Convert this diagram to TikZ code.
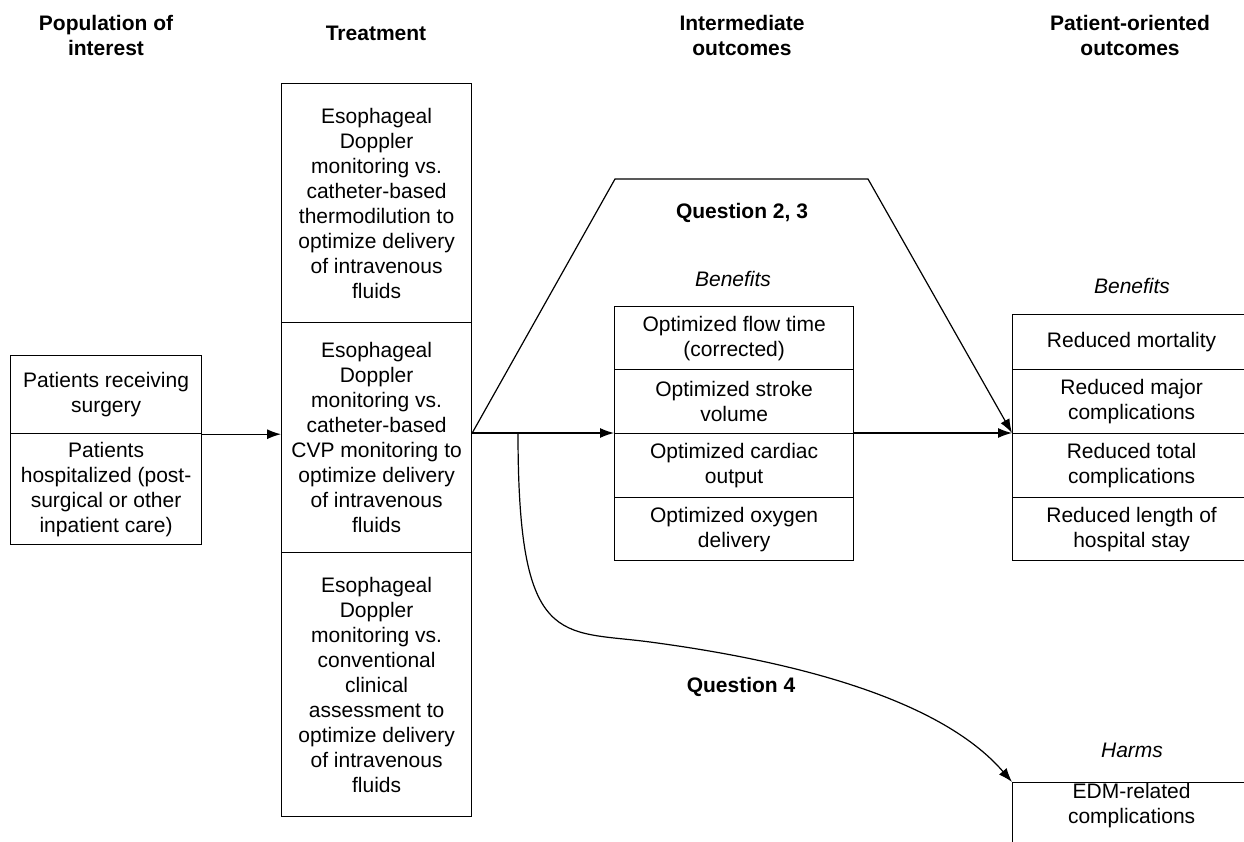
\documentclass[tikz,border=0pt]{standalone}
\usepackage{fontspec}
\setmainfont{Liberation Sans}
\usetikzlibrary{arrows.meta}
\begin{document}
\begin{tikzpicture}[x=1pt,y=-1pt,
  cell/.style={draw, line width=1.2pt, rectangle, inner sep=0pt, align=center,
    anchor=north west, font=\fontsize{21}{25}\selectfont},
  hdr/.style={font=\bfseries\fontsize{21}{25}\selectfont, align=center, inner sep=0pt},
  lbl/.style={font=\itshape\fontsize{21}{25}\selectfont, inner sep=0pt},
  qlbl/.style={font=\bfseries\fontsize{21}{25}\selectfont, inner sep=0pt},
  arr/.style={line width=1.2pt, -{Latex[length=14pt,width=10pt]}}]
\useasboundingbox (0,0) rectangle (1244,842);
\clip (0,0) rectangle (1244,842);

% headers
\node[hdr] (h1) at (106,35) {Population of\\interest};
\node[hdr] (h2) at (376,33) {Treatment};
\node[hdr] (h3) at (742,35) {Intermediate\\outcomes};
\node[hdr] (h4) at (1130,35) {Patient-oriented\\outcomes};

% population
\node[cell, minimum width=191pt, minimum height=78pt] (pop1) at (10,355) {Patients receiving\\surgery};
\node[cell, minimum width=191pt, minimum height=111pt] (pop2) at (10,433) {Patients\\hospitalized (post-\\surgical or other\\inpatient care)};

% treatment
\node[cell, minimum width=190pt, minimum height=239pt] (tr1) at (281,83) {Esophageal\\Doppler\\monitoring vs.\\catheter-based\\thermodilution to\\optimize delivery\\of intravenous\\fluids};
\node[cell, minimum width=190pt, minimum height=230pt] (tr2) at (281,322) {Esophageal\\Doppler\\monitoring vs.\\catheter-based\\CVP monitoring to\\optimize delivery\\of intravenous\\fluids};
\node[cell, minimum width=190pt, minimum height=264pt] (tr3) at (281,552) {Esophageal\\Doppler\\monitoring vs.\\conventional\\clinical\\assessment to\\optimize delivery\\of intravenous\\fluids};

% intermediate outcomes
\node[cell, minimum width=239pt, minimum height=63pt] (im1) at (614,306) {Optimized flow time\\(corrected)};
\node[cell, minimum width=239pt, minimum height=64pt] (im2) at (614,369) {Optimized stroke\\volume};
\node[cell, minimum width=239pt, minimum height=64pt] (im3) at (614,433) {Optimized cardiac\\output};
\node[cell, minimum width=239pt, minimum height=63pt] (im4) at (614,497) {Optimized oxygen\\delivery};

% patient-oriented outcomes
\node[cell, minimum width=238pt, minimum height=55pt] (po1) at (1012,314) {Reduced mortality};
\node[cell, minimum width=238pt, minimum height=64pt] (po2) at (1012,369) {Reduced major\\complications};
\node[cell, minimum width=238pt, minimum height=64pt] (po3) at (1012,433) {Reduced total\\complications};
\node[cell, minimum width=238pt, minimum height=63pt] (po4) at (1012,497) {Reduced length of\\hospital stay};

\node[cell, minimum width=238pt, minimum height=80pt] (harm) at (1012,782) {EDM-related\\complications\\[14pt]};

% labels
\node[qlbl] (q23) at (742,213) {Question 2, 3};
\node[lbl] (ben1) at (733,279) {Benefits};
\node[lbl] (ben2) at (1132,286) {Benefits};
\node[qlbl] (q4) at (741,687) {Question 4};
\node[lbl] (harmlbl) at (1132,750) {Harms};

% connectors
\coordinate (trout) at (tr2.east |- im3.north west);
\coordinate (tl) at (615,179);
\coordinate (tr) at (868,179);
\coordinate (br) at (518,433);
\coordinate (mid) at (650,642);

\draw[arr] (pop1.south east) -- (pop1.south east -| tr2.west);
\draw[arr] (trout) -- (im3.north west);
\draw[arr] (im3.north east) -- (po3.north west);
\draw[arr, line join=miter] (trout) -- (tl) -- (tr) -- (po3.north west);
\draw[arr] (br) .. controls (518,650) and (560,630) .. (mid)
  .. controls (830,666) and (950,710) .. (harm.north west);
\end{tikzpicture}
\end{document}
